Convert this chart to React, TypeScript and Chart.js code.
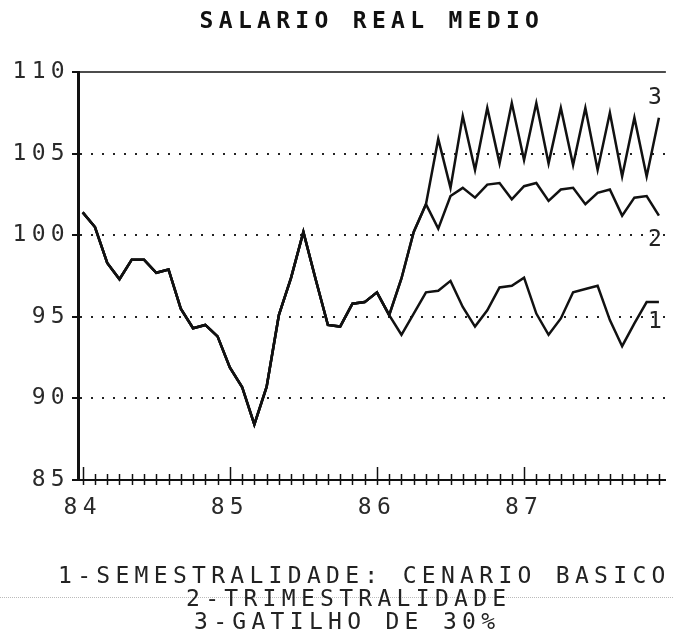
import React, { useEffect, useRef } from 'react';
import { Chart, registerables } from 'chart.js';

Chart.register(...registerables);

// ---- text ----
const TITLE = 'SALARIO REAL MEDIO';
const LEGEND_LINES = ['1-SEMESTRALIDADE: CENARIO BASICO', '2-TRIMESTRALIDADE', '3-GATILHO DE 30%'];
const SERIES_TAGS = ['1', '2', '3'];

// ---- axes ----
const START_YEAR = 84;
const YEAR_LABELS = [84, 85, 86, 87];
const Y_TICKS = [85, 90, 95, 100, 105, 110];
const MONTH_COUNT = 48;

// ---- data (monthly, from Jan 1984) ----
// common path of the three scenarios, months 0..25
const basePath = [
  101.4, 100.5, 98.3, 97.3, 98.5, 98.5, 97.7, 97.9, 95.5, 94.3, 94.5, 93.8, 91.9,
  90.7, 88.4, 90.7, 95.1, 97.4, 100.2, 97.3, 94.5, 94.4, 95.8, 95.9, 96.5, 95.1,
];
// 1 - semestralidade, months 26..47
const semestralTail = [
  93.9, 95.2, 96.5, 96.6, 97.2, 95.6, 94.4, 95.4, 96.8, 96.9, 97.4, 95.2, 93.9, 94.9,
  96.5, 96.7, 96.9, 94.8, 93.2, 94.6, 95.9, 95.9,
];
// 2 - trimestralidade, months 26..47
const trimestralTail = [
  97.35, 100.2, 101.9, 100.4, 102.4, 102.9, 102.3, 103.1, 103.2, 102.2, 103.0, 103.2,
  102.1, 102.8, 102.9, 101.9, 102.6, 102.8, 101.2, 102.3, 102.4, 101.2,
];
// 3 - gatilho de 30%, months 29..47 (shares trimestral path up to month 28)
const GATILHO_START = 29;
const gatilhoTail = [
  105.9, 102.9, 107.3, 104.0, 107.8, 104.4, 108.1, 104.6, 108.1, 104.4, 107.8, 104.3,
  107.8, 104.0, 107.5, 103.6, 107.2, 103.6, 107.2,
];
// position of the series tags (data space)
const TAG_X = 87.89;
const TAG_Y = [94.7, 99.7, 108.4];

const FONT = "'DejaVu Sans Mono', monospace";
const FONT_SIZE = 23;
const SPACING = '5.3px';
const W = 673;
const H = 637;

export default function App() {
  const ref = useRef<HTMLCanvasElement>(null);

  useEffect(() => {
    const canvas = ref.current!;
    const toPoints = (vals: number[]) =>
      vals.map((y, k) => ({ x: START_YEAR + k / 12, y }));

    const sem = toPoints([...basePath, ...semestralTail]);
    const tri = toPoints([...basePath, ...trimestralTail]);
    const gat = toPoints([
      ...basePath,
      ...trimestralTail.slice(0, GATILHO_START - basePath.length),
      ...gatilhoTail,
    ]);

    const spacingPlugin = {
      id: 'spacing',
      beforeLayout(chart: any) {
        chart.ctx.letterSpacing = SPACING;
      },
      beforeDraw(chart: any) {
        chart.ctx.letterSpacing = SPACING;
      },
    };

    const decorPlugin = {
      id: 'decor',
      afterDatasetsDraw(chart: any) {
        const { ctx, chartArea, scales } = chart;
        const xs = scales.x;
        const ys = scales.y;
        ctx.save();
        ctx.strokeStyle = '#111';
        // top frame line
        ctx.lineWidth = 1.5;
        ctx.beginPath();
        ctx.moveTo(chartArea.left, chartArea.top);
        ctx.lineTo(chartArea.right, chartArea.top);
        ctx.stroke();
        // monthly tick marks crossing the x axis
        ctx.lineWidth = 1.5;
        const y0 = chartArea.bottom;
        xs.ticks.forEach((t: any) => {
          const px = Math.round(xs.getPixelForValue(t.value)) + 0.5;
          const major = Math.abs(t.value - Math.round(t.value)) < 1e-6;
          ctx.beginPath();
          ctx.moveTo(px, y0 - (major ? 13 : 6));
          ctx.lineTo(px, y0 + 5);
          ctx.stroke();
        });
        // series tags
        ctx.letterSpacing = '0px';
        ctx.fillStyle = '#222';
        ctx.font = `${FONT_SIZE}px ${FONT}`;
        ctx.textAlign = 'center';
        ctx.textBaseline = 'middle';
        SERIES_TAGS.forEach((tag, i) => {
          ctx.fillText(tag, xs.getPixelForValue(TAG_X), ys.getPixelForValue(TAG_Y[i]));
        });
        ctx.restore();
      },
    };

    const lineStyle = {
      borderColor: '#111',
      borderWidth: 2.5,
      pointRadius: 0,
      tension: 0,
      fill: false,
    };

    const chart = new Chart(canvas, {
      type: 'line',
      data: {
        datasets: [
          { label: LEGEND_LINES[2], data: gat, ...lineStyle },
          { label: LEGEND_LINES[1], data: tri, ...lineStyle },
          { label: LEGEND_LINES[0], data: sem, ...lineStyle },
        ],
      },
      options: {
        animation: false,
        responsive: false,
        layout: { padding: 0 },
        plugins: {
          legend: { display: false },
          tooltip: { enabled: false },
          title: {
            display: true,
            text: TITLE,
            fullSize: false,
            color: '#111',
            font: { family: FONT, size: FONT_SIZE, weight: 'bold', lineHeight: 1.2 },
            padding: { top: 8, bottom: 36.4 },
          },
        },
        scales: {
          x: {
            type: 'linear',
            min: 83.968,
            max: 87.964,
            afterBuildTicks: (s: any) => {
              s.ticks = Array.from({ length: MONTH_COUNT }, (_, k) => ({ value: START_YEAR + k / 12 }));
            },
            afterFit: (s: any) => {
              s.height = H - 480;
            },
            grid: { drawOnChartArea: false, drawTicks: false },
            border: { display: true, color: '#111', width: 2 },
            ticks: {
              autoSkip: false,
              maxRotation: 0,
              minRotation: 0,
              padding: 14,
              color: '#2a2a2a',
              font: { family: FONT, size: FONT_SIZE },
              callback: (v: any) => {
                const r = Math.round(Number(v));
                return Math.abs(Number(v) - r) < 1e-6 && YEAR_LABELS.includes(r) ? String(r) : '';
              },
            },
          },
          y: {
            type: 'linear',
            min: 85,
            max: 110,
            afterBuildTicks: (s: any) => {
              s.ticks = Y_TICKS.map((v) => ({ value: v }));
            },
            afterFit: (s: any) => {
              s.width = 78;
            },
            grid: {
              color: (c: any) =>
                c.tick && (c.tick.value === 85 || c.tick.value === 110) ? 'rgba(0,0,0,0)' : '#222',
              lineWidth: 2,
              drawTicks: true,
              tickLength: 6,
              tickColor: '#111',
              tickWidth: 2,
            },
            border: { display: true, color: '#111', width: 3, dash: [2, 9] },
            ticks: {
              padding: 2,
              color: '#2a2a2a',
              font: { family: FONT, size: FONT_SIZE },
              callback: (v: any) => String(v),
            },
          },
        },
      } as any,
      plugins: [spacingPlugin, decorPlugin],
    });

    return () => chart.destroy();
  }, []);

  const legendStyle = (left: number, top: number): React.CSSProperties => ({
    position: 'absolute',
    left,
    top,
    fontFamily: FONT,
    fontSize: FONT_SIZE,
    lineHeight: `${FONT_SIZE}px`,
    letterSpacing: SPACING,
    color: '#222',
    whiteSpace: 'nowrap',
  });

  return (
    <div style={{ position: 'absolute', left: 0, top: 0, width: W, height: H, background: '#fff', overflow: 'hidden' }}>
      <canvas ref={ref} width={W} height={H} style={{ display: 'block' }} />
      <div style={{ position: 'absolute', left: 0, top: 597, width: W, borderTop: '1px dotted #bbb' }} />
      <div style={legendStyle(58, 564)}>{LEGEND_LINES[0]}</div>
      <div style={legendStyle(186, 587)}>{LEGEND_LINES[1]}</div>
      <div style={legendStyle(194, 610)}>{LEGEND_LINES[2]}</div>
    </div>
  );
}
